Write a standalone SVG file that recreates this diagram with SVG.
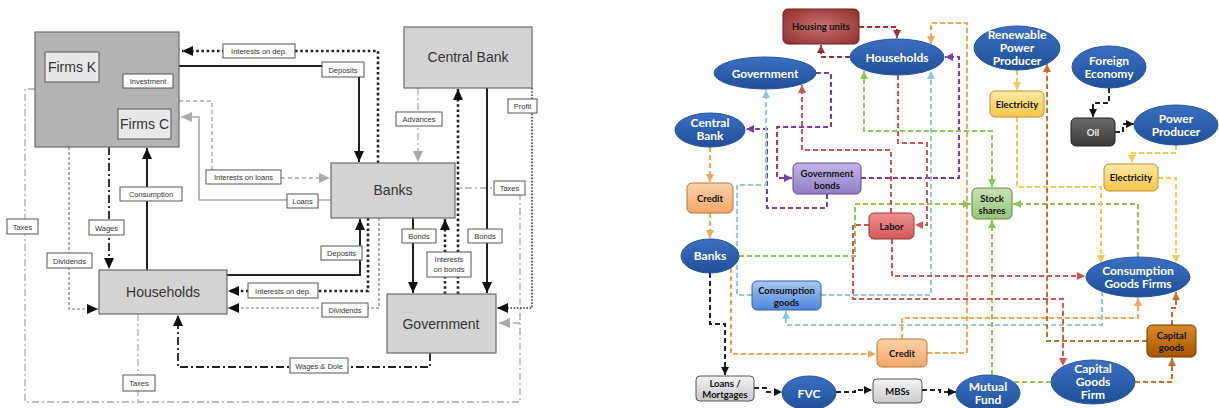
<svg xmlns="http://www.w3.org/2000/svg" width="1219" height="408" viewBox="0 0 1219 408">
  <defs>
    <style>
      .bx { fill: #d3d3d3; stroke: #6a6a6a; stroke-width: 1.2; }
      .bxi { fill: #e8e8e8; stroke: #6a6a6a; stroke-width: 1.2; }
      .lb { fill: #ffffff; stroke: #555; stroke-width: 1; }
      .t1 { font-family: "Liberation Sans", Arial, sans-serif; font-size: 14px; fill: #333; text-anchor: middle; }
      .t2 { font-family: "Liberation Sans", Arial, sans-serif; font-size: 7.5px; fill: #333; text-anchor: middle; }
      .solid { fill: none; stroke: #222; stroke-width: 2; }
      .dots { fill: none; stroke: #222; stroke-width: 2.6; stroke-dasharray: 2.6 2.6; }
      .dashdot { fill: none; stroke: #222; stroke-width: 1.8; stroke-dasharray: 8 3 2 3; }
      .gdashdot { fill: none; stroke: #aaa; stroke-width: 1.3; stroke-dasharray: 7 3 2 3; }
      .gsolid { fill: none; stroke: #aaa; stroke-width: 1.6; }
      .gdash { fill: none; stroke: #aaa; stroke-width: 1.5; stroke-dasharray: 4 3; }
      .fdash { fill: none; stroke: #777; stroke-width: 1.2; stroke-dasharray: 3 2; }
      .fdot { fill: none; stroke: #333; stroke-width: 1.5; stroke-dasharray: 1.6 1.6; }

      .ell { stroke: #2b5594; stroke-width: 1; fill: url(#gBlue); }
      .et { font-family: Lato, "Open Sans", sans-serif; font-weight: bold; font-size: 12px; fill: #ffffff; text-anchor: middle; }
      .rt { font-family: Lato, "Open Sans", sans-serif; font-weight: bold; font-size: 9.5px; fill: #111; text-anchor: middle; }
      .c { fill: none; stroke-width: 2; stroke-dasharray: 5 3; }
      .dkred { stroke: #9c2f2f; }
      .purple { stroke: #7a3ea6; }
      .orange { stroke: #f2a55c; }
      .lblue { stroke: #93c8dc; }
      .green { stroke: #8ec653; }
      .red { stroke: #d05454; }
      .brown { stroke: #c0712c; }
      .yellow { stroke: #f3c95e; }
      .black { stroke: #222; }
    </style>

    <linearGradient id="gBlue" x1="0" y1="0" x2="0" y2="1">
      <stop offset="0" stop-color="#3b70c2"/>
      <stop offset="1" stop-color="#1f4f98"/>
    </linearGradient>
    <radialGradient id="gHousing" cx="0.5" cy="0.5" r="0.7">
      <stop offset="0" stop-color="#c77270"/>
      <stop offset="1" stop-color="#8e2e2c"/>
    </radialGradient>
    <linearGradient id="gOrange" x1="0" y1="0" x2="0" y2="1">
      <stop offset="0" stop-color="#fbd2a8"/>
      <stop offset="1" stop-color="#f2a868"/>
    </linearGradient>
    <linearGradient id="gPurple" x1="0" y1="0" x2="0" y2="1">
      <stop offset="0" stop-color="#c3b6e4"/>
      <stop offset="1" stop-color="#8f7cc4"/>
    </linearGradient>
    <linearGradient id="gCons" x1="0" y1="0" x2="0" y2="1">
      <stop offset="0" stop-color="#a9c8f2"/>
      <stop offset="1" stop-color="#4f86d8"/>
    </linearGradient>
    <linearGradient id="gLabor" x1="0" y1="0" x2="0" y2="1">
      <stop offset="0" stop-color="#ee9090"/>
      <stop offset="1" stop-color="#d25a5a"/>
    </linearGradient>
    <linearGradient id="gStock" x1="0" y1="0" x2="0" y2="1">
      <stop offset="0" stop-color="#c9e2b4"/>
      <stop offset="1" stop-color="#97c57a"/>
    </linearGradient>
    <linearGradient id="gElec" x1="0" y1="0" x2="0" y2="1">
      <stop offset="0" stop-color="#ffe9a6"/>
      <stop offset="1" stop-color="#f6c64a"/>
    </linearGradient>
    <linearGradient id="gOil" x1="0" y1="0" x2="0" y2="1">
      <stop offset="0" stop-color="#6a6a6a"/>
      <stop offset="1" stop-color="#3a3a3a"/>
    </linearGradient>
    <linearGradient id="gCap" x1="0" y1="0" x2="0" y2="1">
      <stop offset="0" stop-color="#d98a2a"/>
      <stop offset="1" stop-color="#a85500"/>
    </linearGradient>
    <linearGradient id="gGray" x1="0" y1="0" x2="0" y2="1">
      <stop offset="0" stop-color="#f4f4f4"/>
      <stop offset="1" stop-color="#c9c9c9"/>
    </linearGradient>

    <!-- arrowheads -->
    <marker id="aK" markerUnits="userSpaceOnUse" markerWidth="11" markerHeight="10" refX="11" refY="5" orient="auto">
      <path d="M0,0 L11,5 L0,10 z" fill="#111"/>
    </marker>
    <marker id="aG" markerUnits="userSpaceOnUse" markerWidth="11" markerHeight="10" refX="11" refY="5" orient="auto">
      <path d="M0,0 L11,5 L0,10 z" fill="#aaa"/>
    </marker>
    <marker id="mDkred" markerUnits="userSpaceOnUse" markerWidth="8" markerHeight="8" refX="8" refY="4" orient="auto"><path d="M0,0 L8,4 L0,8 z" fill="#9c2f2f"/></marker>
    <marker id="mPurple" markerUnits="userSpaceOnUse" markerWidth="8" markerHeight="8" refX="8" refY="4" orient="auto"><path d="M0,0 L8,4 L0,8 z" fill="#7a3ea6"/></marker>
    <marker id="mOrange" markerUnits="userSpaceOnUse" markerWidth="8" markerHeight="8" refX="8" refY="4" orient="auto"><path d="M0,0 L8,4 L0,8 z" fill="#f2a55c"/></marker>
    <marker id="mLblue" markerUnits="userSpaceOnUse" markerWidth="8" markerHeight="8" refX="8" refY="4" orient="auto"><path d="M0,0 L8,4 L0,8 z" fill="#93c8dc"/></marker>
    <marker id="mGreen" markerUnits="userSpaceOnUse" markerWidth="8" markerHeight="8" refX="8" refY="4" orient="auto"><path d="M0,0 L8,4 L0,8 z" fill="#8ec653"/></marker>
    <marker id="mGreenS" markerUnits="userSpaceOnUse" markerWidth="8" markerHeight="8" refX="0" refY="4" orient="auto"><path d="M8,0 L0,4 L8,8 z" fill="#8ec653"/></marker>
    <marker id="mRed" markerUnits="userSpaceOnUse" markerWidth="8" markerHeight="8" refX="8" refY="4" orient="auto"><path d="M0,0 L8,4 L0,8 z" fill="#d05454"/></marker>
    <marker id="mBrown" markerUnits="userSpaceOnUse" markerWidth="8" markerHeight="8" refX="8" refY="4" orient="auto"><path d="M0,0 L8,4 L0,8 z" fill="#c0712c"/></marker>
    <marker id="mYellow" markerUnits="userSpaceOnUse" markerWidth="8" markerHeight="8" refX="8" refY="4" orient="auto"><path d="M0,0 L8,4 L0,8 z" fill="#f3c95e"/></marker>
    <marker id="mBlack" markerUnits="userSpaceOnUse" markerWidth="8" markerHeight="8" refX="8" refY="4" orient="auto"><path d="M0,0 L8,4 L0,8 z" fill="#111"/></marker>
  </defs>

  <rect width="1219" height="408" fill="#ffffff"/>

  <!-- ===================== Sector flow model (grey boxes) ===================== -->
  <g id="left-connectors">
    <!-- taxes loop -->
    <path class="gdashdot" d="M35,89 H25 V402 H520 V188 H455"/>
    <path class="gdashdot" d="M138,314 V402"/>
    <path class="gdashdot" d="M520,323 H499" marker-end="url(#aG)"/>
    <!-- advances -->
    <path class="gdashdot" d="M418,88 V162" marker-end="url(#aG)"/>
    <!-- interests on deposits (firms) -->
    <path class="dots" d="M378,163 V51 H182" marker-end="url(#aK)"/>
    <!-- deposits firms to banks -->
    <path class="solid" d="M179,66 H359 V162" stroke-width="2.6" marker-end="url(#aK)"/>
    <!-- interests on loans -->
    <path class="gdash" d="M179,101 H212 V170"/>
    <path class="gdash" d="M281,178 H330" marker-end="url(#aG)"/>
    <!-- loans -->
    <path class="gsolid" d="M331,200 H199 V117 H181" marker-end="url(#aG)"/>
    <!-- investment -->
    <path class="solid" d="M123,80 H100" marker-end="url(#aK)"/>
    <path class="solid" d="M158,88 V109"/>
    <!-- consumption -->
    <path class="solid" d="M147,270 V148" marker-end="url(#aK)"/>
    <!-- wages -->
    <path class="dashdot" d="M109,147 V269" marker-end="url(#aK)"/>
    <!-- dividends from firms -->
    <path class="fdash" d="M69,147 V309 H98" marker-end="url(#aK)"/>
    <!-- deposits households to banks -->
    <path class="solid" d="M227,275 H360 V219" marker-end="url(#aK)"/>
    <!-- interests on deposits (households) -->
    <path class="dots" d="M368,218 V291 H228" marker-end="url(#aK)"/>
    <!-- dividends from banks -->
    <path class="fdash" d="M379,218 V308 H228" marker-end="url(#aK)"/>
    <!-- wages and dole -->
    <path class="dashdot" d="M430,353 V367 H178 V315" marker-end="url(#aK)"/>
    <!-- bonds -->
    <path class="solid" d="M413,218 V293" marker-end="url(#aK)"/>
    <path class="solid" d="M487,88 V293" marker-end="url(#aK)"/>
    <!-- interests on bonds -->
    <path class="dots" d="M445,294 V219" marker-end="url(#aK)"/>
    <path class="dots" d="M458,294 V89" marker-end="url(#aK)"/>
    <!-- profit -->
    <path class="fdot" d="M532,88 V308 H497" marker-end="url(#aK)"/>
  </g>

  <g id="left-labels">
    <rect class="lb" x="223" y="44" width="72" height="14"/><text class="t2" x="259" y="54">Interests on dep.</text>
    <rect class="lb" x="322" y="62" width="42" height="15"/><text class="t2" x="343" y="72.5">Deposits</text>
    <rect class="lb" x="396" y="112" width="46" height="14"/><text class="t2" x="419" y="122">Advances</text>
    <rect class="lb" x="508" y="99" width="29" height="14"/><text class="t2" x="522.5" y="109">Profit</text>
    <rect class="lb" x="206" y="170" width="75" height="14"/><text class="t2" x="243.5" y="180">Interests on loans</text>
    <rect class="lb" x="287" y="194" width="31" height="14"/><text class="t2" x="302.5" y="204">Loans</text>
    <rect class="lb" x="494" y="181" width="31" height="14"/><text class="t2" x="509.5" y="191">Taxes</text>
    <rect class="lb" x="120" y="187" width="62" height="14"/><text class="t2" x="151" y="197">Consumption</text>
    <rect class="lb" x="7" y="219" width="31" height="15"/><text class="t2" x="22.5" y="229.5">Taxes</text>
    <rect class="lb" x="89" y="220" width="35" height="15"/><text class="t2" x="106.5" y="230.5">Wages</text>
    <rect class="lb" x="47" y="253" width="45" height="15"/><text class="t2" x="69.5" y="263.5">Dividends</text>
    <rect class="lb" x="402" y="229" width="34" height="14"/><text class="t2" x="419" y="239">Bonds</text>
    <rect class="lb" x="468" y="229" width="34" height="14"/><text class="t2" x="485" y="239">Bonds</text>
    <rect class="lb" x="321" y="246" width="41" height="14"/><text class="t2" x="341.5" y="256">Deposits</text>
    <rect class="lb" x="427" y="252" width="44" height="25"/><text class="t2" x="449" y="262">Interests</text><text class="t2" x="449" y="272">on bonds</text>
    <rect class="lb" x="248" y="283" width="70" height="15"/><text class="t2" x="283" y="293.5">Interests on dep.</text>
    <rect class="lb" x="322" y="303" width="46" height="14"/><text class="t2" x="345" y="313">Dividends</text>
    <rect class="lb" x="290" y="358" width="58" height="15"/><text class="t2" x="319" y="368.5">Wages &amp; Dole</text>
    <rect class="lb" x="123" y="375" width="32" height="16"/><text class="t2" x="139" y="386">Taxes</text>
  </g>

  <g id="firms">
    <rect x="35" y="32" width="144" height="115" fill="#b3b3b3" stroke="#6a6a6a" stroke-width="1.2"/>
  </g>
  <g id="firms-k">
    <rect class="bxi" x="45" y="52" width="54" height="30"/>
    <text class="t1" x="72" y="72" font-size="13">Firms K</text>
  </g>
  <g id="investment">
    <rect class="lb" x="123" y="74" width="50" height="14"/>
    <text class="t2" x="148" y="84">Investment</text>
  </g>
  <g id="firms-c">
    <rect class="bxi" x="118" y="109" width="53" height="30"/>
    <text class="t1" x="144.5" y="129" font-size="13">Firms C</text>
  </g>
  <g id="central-bank">
    <rect class="bx" x="404" y="27" width="128" height="61"/>
    <text class="t1" x="468" y="62">Central Bank</text>
  </g>
  <g id="banks">
    <rect class="bx" x="331" y="163" width="124" height="55"/>
    <text class="t1" x="393" y="195">Banks</text>
  </g>
  <g id="households">
    <rect class="bx" x="99" y="270" width="128" height="44"/>
    <text class="t1" x="163" y="297">Households</text>
  </g>
  <g id="government">
    <rect class="bx" x="387" y="294" width="109" height="59"/>
    <text class="t1" x="441" y="329">Government</text>
  </g>

  <!-- ===================== Agent network (coloured flows) ===================== -->
  <g id="connectors">
    <!-- housing -->
    <path class="c dkred" d="M859,27 H897 V38" marker-end="url(#mDkred)"/>
    <path class="c dkred" d="M850,57 H821 V45" marker-end="url(#mDkred)"/>
    <!-- government bonds -->
    <path class="c purple" d="M816,73 H831 V127 H777 V178 H792" marker-end="url(#mPurple)"/>
    <path class="c purple" d="M827,194 V208 H767 V129 H746" marker-end="url(#mPurple)"/>
    <path class="c purple" d="M861,178 H959 V57 H945" marker-end="url(#mPurple)"/>
    <!-- credit -->
    <path class="c orange" d="M710,147 V182" marker-end="url(#mOrange)"/>
    <path class="c orange" d="M710,213 V238" marker-end="url(#mOrange)"/>
    <path class="c orange" d="M731,268 V354 H876" marker-end="url(#mOrange)"/>
    <path class="c orange" d="M902,339 V318 H1138 V298" marker-end="url(#mOrange)"/>
    <path class="c orange" d="M927,353 H967 V23 H931 V44" marker-end="url(#mOrange)"/>
    <!-- consumption goods -->
    <path class="c lblue" d="M752,295 H737 V185 H766 V90" marker-end="url(#mLblue)"/>
    <path class="c lblue" d="M821,295 H931 V71" marker-end="url(#mLblue)"/>
    <path class="c lblue" d="M1102,291 V325 H786 V311" marker-end="url(#mLblue)"/>
    <!-- stock shares -->
    <path class="c green" d="M739,256 H855 V204 H971" marker-end="url(#mGreen)"/>
    <path class="c green" d="M864,71 V131 H992 V187" marker-start="url(#mGreenS)" marker-end="url(#mGreen)"/>
    <path class="c green" d="M1138,257 V204 H1013" marker-end="url(#mGreen)"/>
    <path class="c green" d="M992,375 V220" marker-end="url(#mGreen)"/>
    <path class="c green" d="M1051,382 H1013"/>
    <!-- labor -->
    <path class="c red" d="M898,75 V143 H927 V225 H915" marker-end="url(#mRed)"/>
    <path class="c red" d="M891,213 V150 H802 V85" marker-end="url(#mRed)"/>
    <path class="c red" d="M892,239 V276 H1085" marker-end="url(#mRed)"/>
    <path class="c red" d="M869,225 H853 V299 H1063 V366" marker-end="url(#mRed)"/>
    <!-- capital goods -->
    <path class="c brown" d="M1147,341 H1047 V64" marker-end="url(#mBrown)"/>
    <path class="c brown" d="M1135,382 H1172 V358" marker-end="url(#mBrown)"/>
    <path class="c brown" d="M1172,325 V308 H1176 V292" marker-end="url(#mBrown)"/>
    <!-- electricity -->
    <path class="c yellow" d="M1017,70 V90" marker-end="url(#mYellow)"/>
    <path class="c yellow" d="M1017,117 V187 H1101 V263" marker-end="url(#mYellow)"/>
    <path class="c yellow" d="M1176,145 V153 H1132 V163" marker-end="url(#mYellow)"/>
    <path class="c yellow" d="M1158,178 H1176 V263" marker-end="url(#mYellow)"/>
    <!-- oil and securitisation chain -->
    <path class="c black" d="M1109,88 V103 H1093 V117" marker-end="url(#mBlack)"/>
    <path class="c black" d="M1115,132 H1123 V124 H1134" marker-end="url(#mBlack)"/>
    <path class="c black" d="M710,273 V324 H725 V375" marker-end="url(#mBlack)"/>
    <path class="c black" d="M754,388 H767 V392 H782" marker-end="url(#mBlack)"/>
    <path class="c black" d="M836,392 H855 V390 H872" marker-end="url(#mBlack)"/>
    <path class="c black" d="M922,390 H940 V392 H956" marker-end="url(#mBlack)"/>
  </g>

  <g id="housing-units">
    <rect x="783" y="9" width="76" height="35" rx="5" fill="url(#gHousing)" stroke="#6a1f1f"/>
    <text class="rt" x="821" y="30">Housing units</text>
  </g>
  <g id="households-agent">
    <ellipse class="ell" cx="897" cy="57" rx="47" ry="18"/>
    <text class="et" x="897" y="61.5">Households</text>
  </g>
  <g id="government-agent">
    <ellipse class="ell" cx="765" cy="73" rx="51" ry="16"/>
    <text class="et" x="765" y="77.5">Government</text>
  </g>
  <g id="central-bank-agent">
    <ellipse class="ell" cx="710" cy="130" rx="35" ry="17"/>
    <text class="et" x="710" y="127">Central</text>
    <text class="et" x="710" y="140">Bank</text>
  </g>
  <g id="credit-1">
    <rect x="687" y="183" width="46" height="30" rx="5" fill="url(#gOrange)" stroke="#b8763a"/>
    <text class="rt" x="710" y="201.5">Credit</text>
  </g>
  <g id="government-bonds">
    <rect x="793" y="163" width="68" height="31" rx="5" fill="url(#gPurple)" stroke="#5d4b92"/>
    <text class="rt" x="827" y="176.5">Government</text>
    <text class="rt" x="827" y="188.5">bonds</text>
  </g>
  <g id="banks-agent">
    <ellipse class="ell" cx="710" cy="256" rx="29" ry="17"/>
    <text class="et" x="710" y="260">Banks</text>
  </g>
  <g id="consumption-goods">
    <rect x="752" y="281" width="69" height="29" rx="5" fill="url(#gCons)" stroke="#3a5f9a"/>
    <text class="rt" x="786.5" y="293.5">Consumption</text>
    <text class="rt" x="786.5" y="305.5">goods</text>
  </g>
  <g id="labor">
    <rect x="869" y="213" width="45" height="26" rx="5" fill="url(#gLabor)" stroke="#9a3434"/>
    <text class="rt" x="891.5" y="229.5">Labor</text>
  </g>
  <g id="credit-2">
    <rect x="877" y="339" width="50" height="28" rx="5" fill="url(#gOrange)" stroke="#b8763a"/>
    <text class="rt" x="902" y="356.5">Credit</text>
  </g>
  <g id="loans-mortgages">
    <rect x="696" y="376" width="58" height="25" rx="4" fill="url(#gGray)" stroke="#555"/>
    <text class="rt" x="725" y="386.5">Loans /</text>
    <text class="rt" x="725" y="397.5">Mortgages</text>
  </g>
  <g id="fvc">
    <ellipse class="ell" cx="809" cy="393" rx="27" ry="17"/>
    <text class="et" x="809" y="397.5">FVC</text>
  </g>
  <g id="mbss">
    <rect x="873" y="379" width="49" height="24" rx="4" fill="url(#gGray)" stroke="#555"/>
    <text class="rt" x="897.5" y="394.5">MBSs</text>
  </g>
  <g id="mutual-fund">
    <ellipse class="ell" cx="988" cy="393" rx="32" ry="18"/>
    <text class="et" x="988" y="391">Mutual</text>
    <text class="et" x="988" y="404">Fund</text>
  </g>
  <g id="capital-goods-firm">
    <ellipse class="ell" cx="1093" cy="382" rx="42" ry="22"/>
    <text class="et" x="1093" y="373">Capital</text>
    <text class="et" x="1093" y="386">Goods</text>
    <text class="et" x="1093" y="399">Firm</text>
  </g>
  <g id="capital-goods">
    <rect x="1147" y="325" width="49" height="32" rx="5" fill="url(#gCap)" stroke="#6e3800"/>
    <text class="rt" x="1171.5" y="339">Capital</text>
    <text class="rt" x="1171.5" y="351">goods</text>
  </g>
  <g id="consumption-goods-firms">
    <ellipse class="ell" cx="1138" cy="277" rx="52" ry="20"/>
    <text class="et" x="1138" y="275">Consumption</text>
    <text class="et" x="1138" y="288">Goods Firms</text>
  </g>
  <g id="stock-shares">
    <rect x="972" y="188" width="40" height="31" rx="5" fill="url(#gStock)" stroke="#5d8a45"/>
    <text class="rt" x="992" y="201.5">Stock</text>
    <text class="rt" x="992" y="213.5">shares</text>
  </g>
  <g id="renewable-power-producer">
    <ellipse class="ell" cx="1017" cy="48" rx="43" ry="22"/>
    <text class="et" x="1017" y="39">Renewable</text>
    <text class="et" x="1017" y="52">Power</text>
    <text class="et" x="1017" y="65">Producer</text>
  </g>
  <g id="electricity-1">
    <rect x="990" y="91" width="54" height="26" rx="5" fill="url(#gElec)" stroke="#b99230"/>
    <text class="rt" x="1017" y="107.5">Electricity</text>
  </g>
  <g id="foreign-economy">
    <ellipse class="ell" cx="1109" cy="67" rx="37" ry="21"/>
    <text class="et" x="1109" y="65">Foreign</text>
    <text class="et" x="1109" y="78">Economy</text>
  </g>
  <g id="oil">
    <rect x="1071" y="118" width="44" height="28" rx="5" fill="url(#gOil)" stroke="#222"/>
    <text class="rt" x="1093" y="135.5" style="fill:#f0f0f0">Oil</text>
  </g>
  <g id="power-producer">
    <ellipse class="ell" cx="1176" cy="125" rx="42" ry="20"/>
    <text class="et" x="1176" y="122.5">Power</text>
    <text class="et" x="1176" y="135.5">Producer</text>
  </g>
  <g id="electricity-2">
    <rect x="1104" y="164" width="54" height="27" rx="5" fill="url(#gElec)" stroke="#b99230"/>
    <text class="rt" x="1131" y="181">Electricity</text>
  </g>
</svg>
